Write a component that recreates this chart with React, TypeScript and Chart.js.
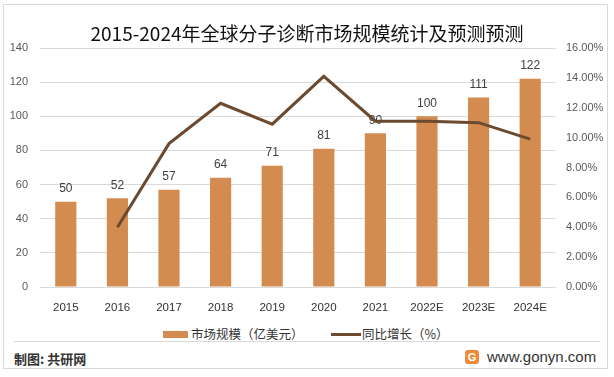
import React, { useEffect, useRef } from "react";
import { Chart, registerables } from "chart.js";

Chart.register(...registerables);

const TITLE = "2015-2024年全球分子诊断市场规模统计及预测预测";
const categories = ["2015", "2016", "2017", "2018", "2019", "2020", "2021", "2022E", "2023E", "2024E"];
const marketSize = [50, 52, 57, 64, 71, 81, 90, 100, 111, 122];
const growthPct = [null, 4.0, 9.6, 12.3, 10.9, 14.1, 11.1, 11.1, 11.0, 9.9];
const barLabel = "市场规模（亿美元）";
const lineLabel = "同比增长（%）";

const BAR_COLOR = "#D38B4F";
const LINE_COLOR = "#6B4A30";
const CJK = "'Noto Sans CJK SC', 'Noto Sans', sans-serif";
const NUM = "'Liberation Sans', 'Noto Sans', sans-serif";

const labelPlugin = {
  id: "barValueLabels",
  afterDatasetDraw(chart: any, args: any) {
    if (args.index !== 0) return;
    const ctx = chart.ctx;
    const meta = args.meta;
    const data = chart.data.datasets[0].data;
    ctx.save();
    ctx.font = `12px ${NUM}`;
    ctx.fillStyle = "#404040";
    ctx.textAlign = "center";
    ctx.textBaseline = "middle";
    meta.data.forEach((el: any, i: number) => {
      ctx.fillText(String(data[i]), el.x, el.y - 13);
    });
    ctx.restore();
  },
};

export default function App() {
  const ref = useRef<HTMLCanvasElement | null>(null);
  useEffect(() => {
    if (!ref.current) return;
    const chart = new Chart(ref.current, {
      type: "bar",
      data: {
        labels: categories,
        datasets: [
          {
            type: "bar",
            label: barLabel,
            data: marketSize,
            backgroundColor: BAR_COLOR,
            barPercentage: 0.41,
            categoryPercentage: 1,
            yAxisID: "y",
            order: 2,
          },
          {
            type: "line",
            label: lineLabel,
            data: growthPct as any,
            borderColor: LINE_COLOR,
            backgroundColor: LINE_COLOR,
            borderWidth: 3,
            pointRadius: 0,
            tension: 0,
            yAxisID: "y1",
            order: 1,
          },
        ],
      } as any,
      options: {
        responsive: false,
        animation: false,
        devicePixelRatio: 1,
        layout: { padding: 0 },
        plugins: {
          legend: { display: false },
          tooltip: { enabled: false },
          title: {
            display: true,
            text: TITLE,
            color: "#111",
            font: { size: 19, family: CJK, weight: "normal" },
            padding: { top: 22.5, bottom: 2.7 },
          },
        },
        scales: {
          x: {
            grid: { display: false },
            border: { display: false },
            ticks: { color: "#333", font: { size: 11.5, family: NUM }, padding: 6 },
            afterFit: (s: any) => { s.height = 37; },
          },
          y: {
            position: "left",
            min: 0,
            max: 140,
            grid: { color: "#d9d9d9", drawTicks: false },
            border: { display: false },
            ticks: { stepSize: 20, color: "#595959", font: { size: 11, family: NUM }, padding: 12 },
            afterFit: (s: any) => { s.width = 40; },
          },
          y1: {
            position: "right",
            min: 0,
            max: 16,
            grid: { drawOnChartArea: false, drawTicks: false },
            border: { display: false },
            ticks: {
              stepSize: 2,
              color: "#595959",
              font: { size: 11, family: NUM },
              padding: 10,
              callback: (v: any) => Number(v).toFixed(2) + "%",
            },
            afterFit: (s: any) => { s.width = 58; },
          },
        },
      } as any,
      plugins: [labelPlugin],
    });
    return () => chart.destroy();
  }, []);

  return (
    <div style={{ position: "absolute", left: 0, top: 0, width: 614, height: 377, background: "#fff", overflow: "hidden" }}>
      <div style={{ position: "absolute", left: 3, top: 4, width: 603, height: 363, border: "1px solid #d9d9d9" }} />
      <canvas ref={ref} width={614} height={324} style={{ position: "absolute", left: 0, top: 0, width: 614, height: 324 }} />
      <div style={{ position: "absolute", left: 163, top: 331, width: 25, height: 7, background: BAR_COLOR }} />
      <div style={{ position: "absolute", left: 191, top: 325, lineHeight: "18px", fontSize: 12.5, fontFamily: CJK, color: "#333", whiteSpace: "nowrap" }}>{barLabel}</div>
      <div style={{ position: "absolute", left: 331, top: 333, width: 30, height: 3, background: LINE_COLOR }} />
      <div style={{ position: "absolute", left: 362, top: 325, lineHeight: "18px", fontSize: 12.5, fontFamily: CJK, color: "#333", whiteSpace: "nowrap" }}>{lineLabel}</div>
      <div style={{ position: "absolute", left: 14, top: 341, width: 586, height: 1, background: "#d9d9d9" }} />
      <div style={{ position: "absolute", left: 14, top: 350, lineHeight: "18px", fontSize: 13, fontWeight: "bold", fontFamily: CJK, color: "#333", whiteSpace: "nowrap" }}>制图: 共研网</div>
      <div style={{ position: "absolute", left: 465, top: 350, width: 14, height: 14, borderRadius: 3, background: "#F08A3C", color: "#fff", fontSize: 11, fontWeight: "bold", fontFamily: NUM, lineHeight: "14px", textAlign: "center" }}>G</div>
      <div style={{ position: "absolute", left: 487, top: 348, lineHeight: "18px", fontSize: 15, fontFamily: NUM, color: "#333", whiteSpace: "nowrap" }}>www.gonyn.com</div>
    </div>
  );
}
